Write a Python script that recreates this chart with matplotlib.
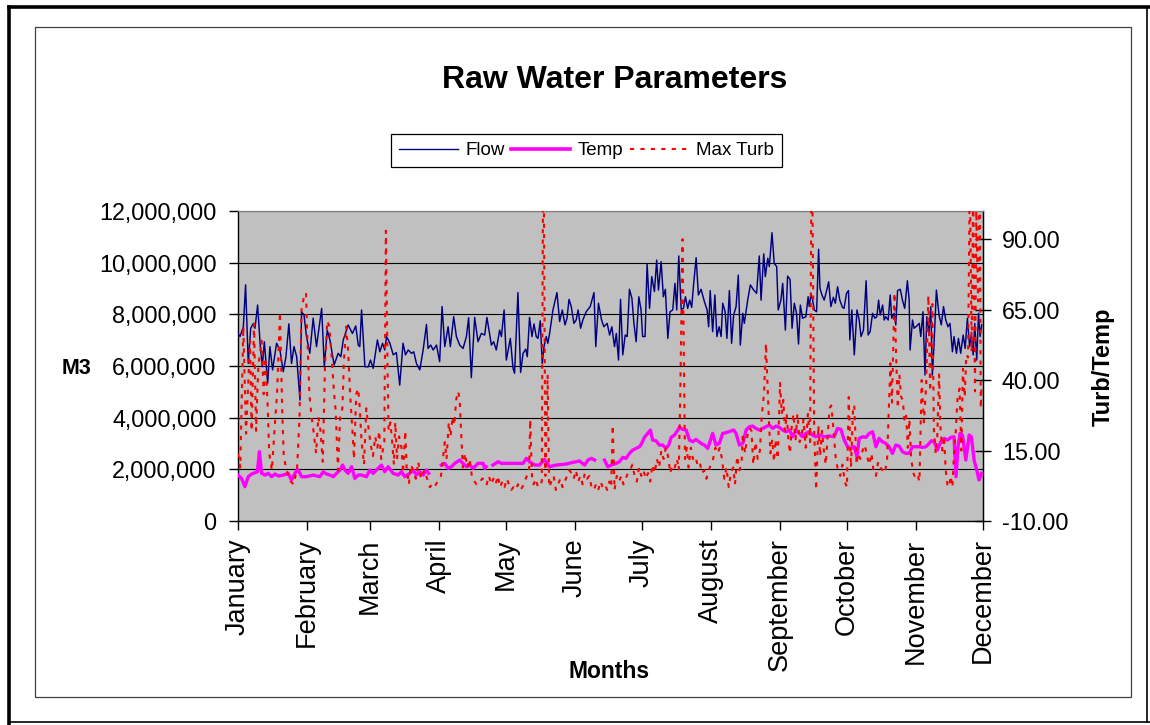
import numpy as np
import matplotlib
matplotlib.use("Agg")
import matplotlib.pyplot as plt
from matplotlib.ticker import FuncFormatter
from matplotlib.lines import Line2D
from matplotlib.patches import Rectangle

plt.rcParams['font.family'] = ['Liberation Sans', 'DejaVu Sans']

# ---------------- data ----------------
months = ["January", "February", "March", "April", "May", "June", "July",
          "August", "September", "October", "November", "December"]
month_start_day = [0, 31, 59, 90, 120, 151, 181, 212, 243, 273, 304, 334]

# Flow (M3, millions) : (day of year, value)
flow_points = [
    (0.0, 7.26), (0.9, 7.14), (2.4, 7.52), (3.4, 9.14), (4.6, 6.10), (5.7, 7.46), (6.9, 7.65),
    (7.6, 7.46), (8.8, 8.36), (9.9, 6.88), (10.9, 5.97), (11.8, 6.94), (13.3, 5.33), (14.3, 6.75),
    (15.5, 5.85), (17.3, 6.88), (18.8, 6.62), (20.3, 5.78), (21.5, 6.36), (22.8, 7.63), (24.0, 6.10),
    (25.1, 6.75), (26.3, 6.36), (27.8, 4.68), (28.5, 8.10), (29.6, 7.97), (30.7, 7.14), (32.2, 6.49),
    (33.7, 7.85), (35.2, 6.75), (37.5, 8.23), (38.7, 5.97), (40.0, 7.39), (41.2, 7.01), (43.1, 6.04),
    (44.9, 6.49), (46.1, 6.36), (47.2, 7.01), (49.4, 7.59), (51.3, 7.26), (52.8, 7.55), (53.9, 6.81),
    (54.6, 6.75), (55.4, 8.17), (56.9, 5.97), (58.4, 5.97), (59.4, 6.23), (60.6, 5.91), (62.5, 7.01),
    (63.6, 6.55), (64.8, 6.88), (65.8, 6.62), (66.6, 7.14), (68.1, 6.88), (69.6, 6.43), (71.0, 6.52),
    (72.5, 5.26), (74.0, 6.88), (75.1, 6.43), (76.3, 6.62), (77.8, 6.49), (78.8, 6.55), (80.0, 6.10),
    (81.5, 5.85), (83.0, 6.62), (84.5, 7.61), (85.2, 6.68), (86.4, 6.81), (87.5, 6.62), (89.0, 6.81),
    (90.4, 6.17), (91.5, 8.30), (92.7, 6.75), (94.2, 7.52), (95.2, 6.75), (96.7, 7.91), (97.9, 7.14),
    (99.4, 6.81), (100.9, 6.68), (102.4, 7.14), (103.4, 7.87), (104.6, 5.55), (106.1, 7.88), (107.6, 6.94),
    (109.1, 7.26), (110.6, 7.20), (111.6, 7.88), (113.6, 6.81), (114.6, 6.94), (115.8, 6.62), (117.3, 7.39),
    (118.1, 7.14), (119.3, 8.17), (120.3, 6.23), (122.1, 7.07), (123.3, 5.91), (124.0, 5.72), (125.5, 8.84),
    (126.7, 5.75), (127.8, 6.49), (129.0, 6.65), (129.7, 6.36), (130.7, 7.88), (131.8, 7.14), (132.7, 7.63),
    (133.7, 7.14), (134.5, 7.07), (135.5, 7.75), (136.4, 6.10), (137.2, 6.75), (138.2, 7.14), (138.9, 6.88),
    (139.7, 7.26), (141.2, 8.17), (143.0, 8.84), (144.2, 7.72), (145.4, 8.17), (146.6, 7.59), (147.5, 7.85),
    (148.4, 8.58), (149.4, 8.30), (150.6, 7.65), (151.6, 7.78), (152.5, 8.17), (153.6, 7.46), (154.6, 7.78),
    (156.1, 8.10), (157.9, 8.30), (159.6, 8.84), (160.4, 6.75), (161.6, 8.43), (163.0, 7.78), (164.0, 7.52),
    (165.5, 7.65), (166.6, 7.20), (167.6, 7.52), (168.8, 6.75), (169.6, 7.26), (170.6, 6.23), (171.5, 8.58),
    (172.5, 6.43), (173.6, 7.20), (174.5, 7.14), (175.5, 8.97), (176.6, 8.62), (177.5, 7.65), (178.5, 6.94),
    (179.7, 8.68), (180.7, 8.17), (181.4, 7.14), (182.5, 7.14), (183.4, 9.94), (184.5, 8.23), (185.5, 9.46),
    (186.7, 8.88), (187.7, 10.10), (188.5, 8.94), (189.7, 10.04), (190.7, 8.68), (191.6, 8.97), (192.7, 7.07),
    (193.7, 8.10), (194.9, 8.17), (195.9, 9.20), (196.7, 8.17), (197.6, 10.26), (198.7, 8.19), (199.7, 8.23),
    (200.6, 8.68), (201.6, 8.23), (202.5, 8.55), (203.4, 8.27), (204.3, 9.20), (205.4, 10.19), (206.4, 8.75),
    (207.6, 8.97), (209.1, 8.49), (210.3, 8.17), (211.0, 7.52), (211.7, 8.92), (212.8, 7.33), (213.8, 8.75),
    (214.7, 7.14), (215.7, 7.52), (216.6, 7.14), (217.3, 8.43), (218.4, 8.10), (219.2, 7.07), (220.3, 8.92),
    (221.3, 6.88), (222.2, 7.97), (223.3, 8.30), (224.3, 9.52), (225.2, 6.81), (226.3, 8.04), (227.0, 7.65),
    (228.5, 8.55), (229.7, 9.14), (231.2, 8.94), (232.5, 8.81), (233.7, 10.26), (234.5, 8.55), (235.7, 10.34),
    (236.4, 9.46), (237.5, 10.17), (238.2, 9.85), (239.4, 11.16), (240.4, 9.97), (241.5, 9.85), (242.2, 8.17),
    (243.4, 8.55), (244.2, 9.20), (245.4, 7.39), (246.4, 9.48), (247.5, 9.35), (248.4, 7.46), (249.4, 8.43),
    (250.4, 8.04), (251.3, 6.85), (252.1, 8.36), (253.1, 7.85), (254.6, 7.91), (255.6, 8.68), (256.1, 8.30),
    (256.9, 8.81), (257.6, 8.55), (258.4, 8.17), (259.4, 8.10), (260.3, 10.52), (260.9, 9.01), (261.8, 8.75),
    (262.8, 8.55), (263.9, 8.92), (264.8, 9.26), (265.8, 8.30), (266.9, 8.66), (267.8, 8.43), (268.8, 9.07),
    (269.8, 8.55), (271.0, 8.27), (271.7, 8.23), (272.8, 8.81), (273.7, 8.92), (274.3, 7.01), (275.2, 8.17),
    (276.3, 6.43), (277.5, 8.17), (278.5, 7.78), (279.3, 7.14), (280.4, 7.39), (281.6, 9.30), (282.5, 7.20),
    (283.4, 7.33), (284.5, 8.04), (285.5, 7.85), (286.4, 7.91), (287.2, 8.55), (287.9, 7.97), (289.0, 8.36),
    (289.7, 7.78), (290.4, 7.91), (291.5, 7.78), (292.4, 8.75), (293.1, 7.85), (294.2, 8.04), (294.9, 7.59),
    (295.7, 8.92), (296.9, 8.97), (297.9, 8.55), (298.9, 8.23), (300.1, 9.30), (300.9, 8.55), (301.3, 6.62),
    (302.4, 7.78), (303.1, 7.46), (304.3, 7.55), (305.4, 7.65), (306.1, 7.14), (307.1, 8.10), (308.0, 5.65),
    (308.8, 7.91), (309.8, 7.33), (310.6, 8.30), (311.3, 5.65), (312.0, 6.75), (313.1, 8.94), (314.3, 7.97),
    (315.3, 7.59), (316.3, 8.30), (317.3, 7.78), (318.3, 7.52), (319.2, 7.65), (320.3, 6.55), (321.0, 7.14),
    (322.1, 6.49), (323.0, 7.07), (324.0, 6.49), (325.1, 7.20), (326.0, 6.68), (327.0, 7.85), (328.0, 6.75),
    (328.8, 7.20), (329.6, 6.43), (330.3, 7.65), (331.2, 6.23), (332.0, 8.04), (332.7, 7.14), (333.4, 7.59),
]

# Temp (deg) : (day, value); None = missing readings
temp_points = [
    (0.0, 6.31), (1.6, 5.13), (3.1, 2.17), (4.6, 5.72), (6.1, 6.67), (7.6, 7.14), (8.7, 7.49), (9.6, 14.59),
    (10.6, 6.90), (12.1, 6.31), (13.6, 6.90), (15.1, 5.72), (16.6, 6.67), (18.1, 5.96), (20.3, 6.31),
    (22.5, 6.90), (24.0, 4.54), (25.5, 6.90), (26.7, 8.32), (27.8, 6.90), (28.5, 5.72), (30.7, 5.72),
    (33.7, 6.31), (36.7, 5.72), (38.2, 7.49), (39.7, 6.67), (41.2, 6.31), (42.7, 5.72), (44.2, 6.90),
    (45.7, 8.09), (46.9, 9.86), (47.9, 8.09), (49.4, 6.90), (50.9, 9.27), (52.4, 5.13), (53.9, 6.31),
    (55.4, 6.31), (57.6, 5.72), (59.1, 8.09), (60.6, 6.90), (62.1, 8.09), (64.3, 9.86), (65.8, 7.49),
    (67.3, 9.27), (69.6, 6.90), (71.8, 6.31), (73.3, 7.49), (74.8, 5.72), (77.0, 6.90), (78.5, 8.09),
    (80.0, 6.31), (81.5, 7.49), (83.0, 6.31), (84.5, 8.09), (85.5, 6.90), (88.0, None),
    (91.2, 9.86), (92.7, 10.45), (94.2, 8.67), (95.7, 9.27), (97.2, 10.45), (99.4, 11.63), (100.9, 10.45),
    (102.4, 9.27), (103.9, 9.86), (105.4, 8.67), (107.6, 10.45), (109.9, 10.45), (110.6, 8.67), (111.3, 9.27),
    (112.5, None),
    (114.3, 9.86), (116.6, 11.04), (118.1, 10.45), (120.3, 10.45), (123.3, 10.45), (126.3, 10.45),
    (127.8, 10.45), (129.3, 12.22), (130.7, 11.04), (133.0, 9.86), (135.2, 9.86), (137.4, 11.87),
    (139.7, 9.27), (142.7, 9.86), (147.1, 10.21), (150.1, 10.81), (153.1, 11.28), (155.4, 9.86),
    (156.9, 11.63), (158.4, 12.22), (159.9, 11.63), (162.0, None),
    (164.3, 11.63), (165.8, 9.27), (167.3, 9.86), (169.6, 10.45), (171.0, 11.04), (172.5, 12.58),
    (174.0, 12.22), (175.5, 14.00), (177.0, 15.18), (178.5, 15.77), (180.0, 16.36), (181.0, 17.54),
    (182.2, 19.67), (183.7, 21.09), (184.9, 22.27), (185.9, 18.72), (187.4, 18.49), (188.9, 16.95),
    (190.4, 16.95), (191.9, 15.77), (193.1, 16.95), (194.2, 19.67), (195.7, 20.50), (197.2, 22.27),
    (197.9, 23.22), (199.4, 22.51), (200.9, 22.27), (202.4, 18.72), (203.9, 18.13), (205.4, 18.96),
    (207.6, 17.54), (209.1, 16.95), (210.6, 15.77), (211.8, 18.72), (212.8, 21.09), (214.3, 16.95),
    (215.8, 17.54), (217.3, 21.09), (218.8, 21.33), (221.0, 21.92), (222.2, 22.27), (223.3, 21.09),
    (224.8, 16.95), (226.3, 17.54), (227.8, 22.27), (229.3, 23.45), (230.7, 23.69), (232.2, 22.86),
    (233.7, 22.27), (235.2, 22.86), (236.7, 23.45), (238.2, 24.04), (239.7, 22.86), (241.2, 23.69),
    (242.7, 23.22), (244.2, 22.27), (245.7, 21.68), (247.2, 22.27), (248.7, 19.91), (250.1, 22.27),
    (251.6, 21.09), (253.1, 19.91), (254.6, 21.09), (256.1, 21.68), (257.6, 20.50), (259.1, 19.91),
    (260.6, 20.50), (262.8, 19.91), (265.1, 20.14), (267.3, 19.91), (268.8, 22.86), (270.3, 22.51),
    (271.8, 18.72), (273.3, 16.36), (274.8, 15.77), (276.3, 16.36), (277.5, 12.81), (278.5, 19.32),
    (280.0, 19.91), (281.5, 19.67), (283.0, 21.09), (284.5, 21.68), (286.0, 16.36), (287.4, 19.32),
    (288.9, 18.13), (290.4, 17.54), (291.9, 16.36), (293.4, 14.00), (294.9, 16.95), (296.4, 16.60),
    (297.9, 14.59), (299.4, 14.00), (300.9, 14.00), (302.4, 16.36), (303.9, 16.36), (305.4, 16.36),
    (306.9, 16.12), (308.4, 16.36), (309.9, 17.54), (310.9, 18.49), (312.1, 18.13), (313.6, 15.18),
    (315.1, 18.13), (316.6, 19.32), (318.1, 18.72), (319.6, 19.67), (321.0, 19.91), (321.9, 5.72),
    (322.8, 16.36), (323.7, 21.09), (324.8, 20.50), (326.3, 11.63), (327.8, 20.50), (328.8, 19.91),
    (330.0, 11.63), (331.2, 8.09), (332.2, 4.54), (333.4, 6.90),
]

# Max Turb : (day, value)
turb_points = [
    (0.0, 14), (1.0, 9), (2.4, 59), (3.6, 21), (5.4, 54), (6.1, 22), (7.2, 60), (8.1, 22), (9.1, 45),
    (10.6, 54), (11.5, 35), (12.3, 48), (13.3, 31), (14.0, 14), (15.2, 8), (16.5, 24), (17.5, 35),
    (18.8, 64), (19.8, 30), (20.5, 13), (21.5, 9), (22.5, 6), (23.6, 4), (25.0, 3), (26.5, 9), (27.6, 27),
    (28.5, 66), (29.5, 69), (30.5, 71), (31.0, 57), (32.0, 35), (33.0, 27), (34.0, 21), (35.0, 14),
    (36.0, 27), (37.0, 22), (38.0, 11), (39.0, 45), (40.0, 61), (41.0, 59), (42.0, 48), (43.0, 36),
    (43.8, 29), (44.8, 8), (45.8, 27), (46.8, 30), (47.5, 47), (48.5, 59), (49.4, 50), (50.2, 36),
    (51.3, 22), (52.0, 12), (53.0, 35), (53.9, 37), (54.6, 30), (55.4, 18), (56.5, 10), (57.5, 30),
    (58.5, 23), (59.5, 17), (60.5, 13), (61.5, 20), (62.5, 16), (63.3, 22), (64.2, 12), (65.6, 18),
    (66.3, 93), (67.0, 47), (67.5, 22), (68.3, 25), (69.0, 19), (69.9, 10), (70.5, 25), (71.3, 12),
    (72.2, 20), (73.3, 16), (74.0, 7), (75.0, 22), (75.6, 9), (76.6, 3), (77.5, 10), (78.5, 8), (79.7, 5),
    (80.8, 11), (82.0, 5), (83.5, 8), (84.8, 5), (86.0, 2), (87.0, 3), (88.0, 2), (89.5, 4), (91.0, 6),
    (92.7, 18), (93.5, 12), (94.5, 25), (95.3, 20), (96.2, 27), (97.0, 24), (97.8, 33), (98.7, 36),
    (99.4, 33), (100.0, 22), (100.8, 9), (101.8, 14), (102.8, 9), (103.8, 12), (105.0, 5), (106.0, 4),
    (107.0, 3), (108.0, 3), (109.4, 5), (110.6, 5), (111.5, 3), (112.5, 6), (113.5, 3), (114.5, 5),
    (115.5, 3), (116.5, 6), (117.5, 2), (118.5, 4), (119.5, 2), (120.5, 5), (121.5, 3), (122.5, 1),
    (123.5, 2), (124.5, 1), (125.5, 3), (126.5, 1), (127.5, 2), (128.5, 4), (129.5, 6), (130.5, 7),
    (131.0, 26), (131.8, 6), (132.5, 3), (133.5, 5), (134.5, 2), (135.4, 3), (136.2, 4), (136.9, 140),
    (137.8, 6), (138.8, 42), (139.5, 2), (140.5, 4), (141.5, 6), (142.5, 1), (143.5, 3), (144.5, 5),
    (145.5, 2), (146.5, 4), (147.5, 6), (148.5, 8), (149.5, 7), (150.5, 5), (151.5, 8), (152.5, 4),
    (153.5, 6), (154.5, 3), (155.5, 7), (156.5, 5), (157.5, 6), (158.5, 2), (159.5, 1), (160.5, 3),
    (161.5, 1), (162.5, 4), (163.5, 2), (164.5, 3), (165.5, 1), (166.5, 4), (167.3, 2), (168.0, 24),
    (168.8, 1), (169.8, 6), (170.8, 4), (171.8, 6), (172.8, 3), (173.8, 5), (174.8, 7), (175.8, 8),
    (176.8, 10), (177.8, 6), (178.8, 4), (179.8, 9), (180.8, 6), (181.8, 8), (182.8, 5), (183.8, 7),
    (184.8, 4), (185.8, 10), (186.8, 7), (187.8, 12), (188.8, 9), (189.8, 15), (190.8, 12), (191.8, 16),
    (192.8, 13), (193.8, 7), (194.8, 10), (195.8, 9), (196.8, 12), (197.6, 8), (198.3, 36), (199.3, 90),
    (200.4, 12), (201.2, 16), (202.0, 9), (203.0, 16), (204.0, 12), (205.0, 13), (206.0, 10), (207.0, 11),
    (208.0, 7), (209.0, 8), (210.0, 5), (211.0, 8), (212.0, 10), (213.0, 12), (214.0, 16), (215.0, 14),
    (216.0, 16), (217.0, 12), (218.0, 5), (219.0, 9), (220.0, 2), (221.0, 7), (222.0, 9), (222.8, 3),
    (223.8, 13), (224.8, 8), (225.8, 11), (226.3, 21), (227.3, 14), (228.3, 20), (229.3, 23), (230.2, 22),
    (231.0, 10), (232.0, 18), (233.0, 12), (234.0, 15), (234.8, 27), (235.8, 35), (236.7, 53), (237.3, 40),
    (238.0, 26), (238.7, 14), (239.5, 19), (240.3, 11), (241.0, 19), (242.0, 12), (243.0, 39), (243.8, 28),
    (244.5, 33), (245.2, 22), (246.0, 28), (246.8, 18), (247.5, 14), (248.2, 23), (249.0, 28), (250.0, 19),
    (250.8, 28), (251.8, 18), (252.8, 21), (253.5, 26), (254.5, 16), (255.5, 28), (256.5, 18), (257.2, 140),
    (258.3, 22), (259.2, 1), (260.2, 24), (261.0, 13), (261.8, 22), (262.5, 16), (263.5, 10), (264.5, 22),
    (265.2, 30), (266.0, 31), (267.0, 22), (268.0, 12), (269.0, 8), (270.0, 6), (271.0, 10), (272.0, 4),
    (273.0, 2), (273.8, 34), (274.8, 9), (275.8, 31), (276.3, 31), (277.3, 10), (278.0, 14), (279.0, 12),
    (280.0, 15), (281.0, 17), (282.0, 13), (283.0, 10), (284.0, 14), (285.0, 7), (286.0, 6), (287.0, 11),
    (288.0, 9), (289.0, 8), (290.0, 7), (291.0, 12), (291.8, 30), (292.5, 46), (293.2, 32), (294.3, 71),
    (295.0, 50), (295.8, 30), (296.5, 42), (297.3, 34), (298.0, 33), (298.8, 26), (299.5, 28), (300.3, 16),
    (301.0, 26), (301.8, 12), (302.8, 7), (303.8, 5), (304.8, 6), (305.5, 4), (306.5, 40), (307.5, 25),
    (308.5, 38), (309.5, 70), (310.3, 36), (311.3, 67), (312.0, 22), (312.8, 14), (313.5, 20), (314.3, 42),
    (315.0, 22), (315.8, 15), (316.5, 20), (317.3, 8), (318.0, 3), (318.8, 2), (319.5, 6), (320.3, 2),
    (321.0, 14), (321.8, 22), (322.6, 34), (323.5, 37), (324.3, 15), (325.0, 44), (325.8, 34), (326.5, 49),
    (327.3, 48), (328.1, 115), (328.9, 50), (329.6, 110), (330.4, 36), (331.0, 100), (331.8, 68),
    (332.5, 120), (333.0, 30), (333.4, 38),
]

left_ticks = [0, 2000000, 4000000, 6000000, 8000000, 10000000, 12000000]
right_ticks = [-10, 15, 40, 65, 90]

# ---------------- figure ----------------
W, H = 1150, 725
fig = plt.figure(figsize=(W / 100, H / 100), dpi=100)
fig.patch.set_facecolor('white')

def fx(px):
    return px / W

def fy(py):
    return 1 - py / H

# outer frame and chart area frame
fig.add_artist(Line2D([fx(9), fx(1150)], [fy(7), fy(7)], color='black', lw=2.6, transform=fig.transFigure))
fig.add_artist(Line2D([fx(9), fx(9)], [fy(7), fy(725)], color='black', lw=2.6, transform=fig.transFigure))
fig.add_artist(Line2D([fx(9), fx(1150)], [fy(722), fy(722)], color='black', lw=1.2, transform=fig.transFigure))
fig.add_artist(Line2D([fx(1147), fx(1147)], [fy(7), fy(722)], color='black', lw=1.2, transform=fig.transFigure))
fig.add_artist(Rectangle((fx(35), fy(697)), fx(1131) - fx(35), fy(27) - fy(697), fill=False,
                         edgecolor='#404040', lw=0.9, transform=fig.transFigure))

ax = fig.add_axes([fx(238), fy(521), fx(983) - fx(238), fy(211) - fy(521)])
ax.set_facecolor('#C0C0C0')
ax.set_xlim(0, 334)
ax.set_ylim(0, 12000000)
ax.set_yticks(left_ticks)
ax.yaxis.set_major_formatter(FuncFormatter(lambda v, p: f"{int(round(v)):,}"))
ax.grid(axis='y', color='black', lw=0.8)
ax.grid(axis='x', visible=False)
ax.set_axisbelow(True)
ax.set_xticks(month_start_day)
ax.set_xticklabels(months, rotation=90, fontsize=19.5)
ax.tick_params(axis='x', direction='out', length=6.5, width=1, pad=6, colors='black')
ax.tick_params(axis='y', direction='out', length=6.5, width=1, pad=9, labelsize=16.8)
for side in ['left', 'bottom']:
    ax.spines[side].set_color('black')
    ax.spines[side].set_linewidth(1.0)
ax.spines['top'].set_color('#808080')
ax.spines['right'].set_color('black')

flow_day = [p[0] for p in flow_points]
flow_val = [p[1] * 1e6 for p in flow_points]
ax.plot(flow_day, flow_val, color='#000080', lw=1.05, zorder=3)

ax2 = ax.twinx()
ax2.set_ylim(-10, 100)
ax2.set_yticks(right_ticks)
ax2.yaxis.set_major_formatter(FuncFormatter(lambda v, p: f"{v:.2f}"))
ax2.tick_params(axis='y', direction='inout', length=11, width=1, pad=8, labelsize=16.8)
ax2.spines['right'].set_color('black')
ax2.spines['right'].set_linewidth(1.0)
ax2.spines['top'].set_color('#808080')
ax2.spines['left'].set_visible(False)
ax2.spines['bottom'].set_visible(False)

temp_day = [p[0] for p in temp_points]
temp_val = [np.nan if p[1] is None else p[1] for p in temp_points]
turb_day = [p[0] for p in turb_points]
turb_val = [p[1] for p in turb_points]

ax2.plot(temp_day, temp_val, color='#FF00FF', lw=2.4, solid_joinstyle='round', zorder=3)
ax2.plot(turb_day, turb_val, color='#FF0000', lw=1.5, linestyle=(0, (2, 3)), zorder=4)

# texts
fig.text(fx(615), fy(80), "Raw Water Parameters", ha='center', va='center',
         fontsize=23, fontweight='bold')
fig.text(fx(77), fy(368), "M3", ha='center', va='center', fontsize=15.5, fontweight='bold')
fig.text(fx(609), fy(672), "Months", ha='center', va='center', fontsize=16.5, fontweight='bold')
fig.text(fx(1103), fy(367), "Turb/Temp", ha='center', va='center', rotation=90,
         fontsize=17, fontweight='bold')

handles = [Line2D([], [], color='#000080', lw=1.0),
           Line2D([], [], color='#FF00FF', lw=2.6),
           Line2D([], [], color='#FF0000', lw=1.5, linestyle=(0, (2, 3)))]
leg = fig.legend(handles, ["Flow", "Temp", "Max Turb"], loc='center',
                 bbox_to_anchor=(fx(586.5), fy(150.5)), ncol=3, fontsize=13.5,
                 handlelength=3.15, handletextpad=0.4, columnspacing=0.35,
                 borderpad=0.4, frameon=True, fancybox=False, framealpha=1,
                 edgecolor='black')
leg.get_frame().set_linewidth(0.9)

fig.savefig("out.png", dpi=100)
